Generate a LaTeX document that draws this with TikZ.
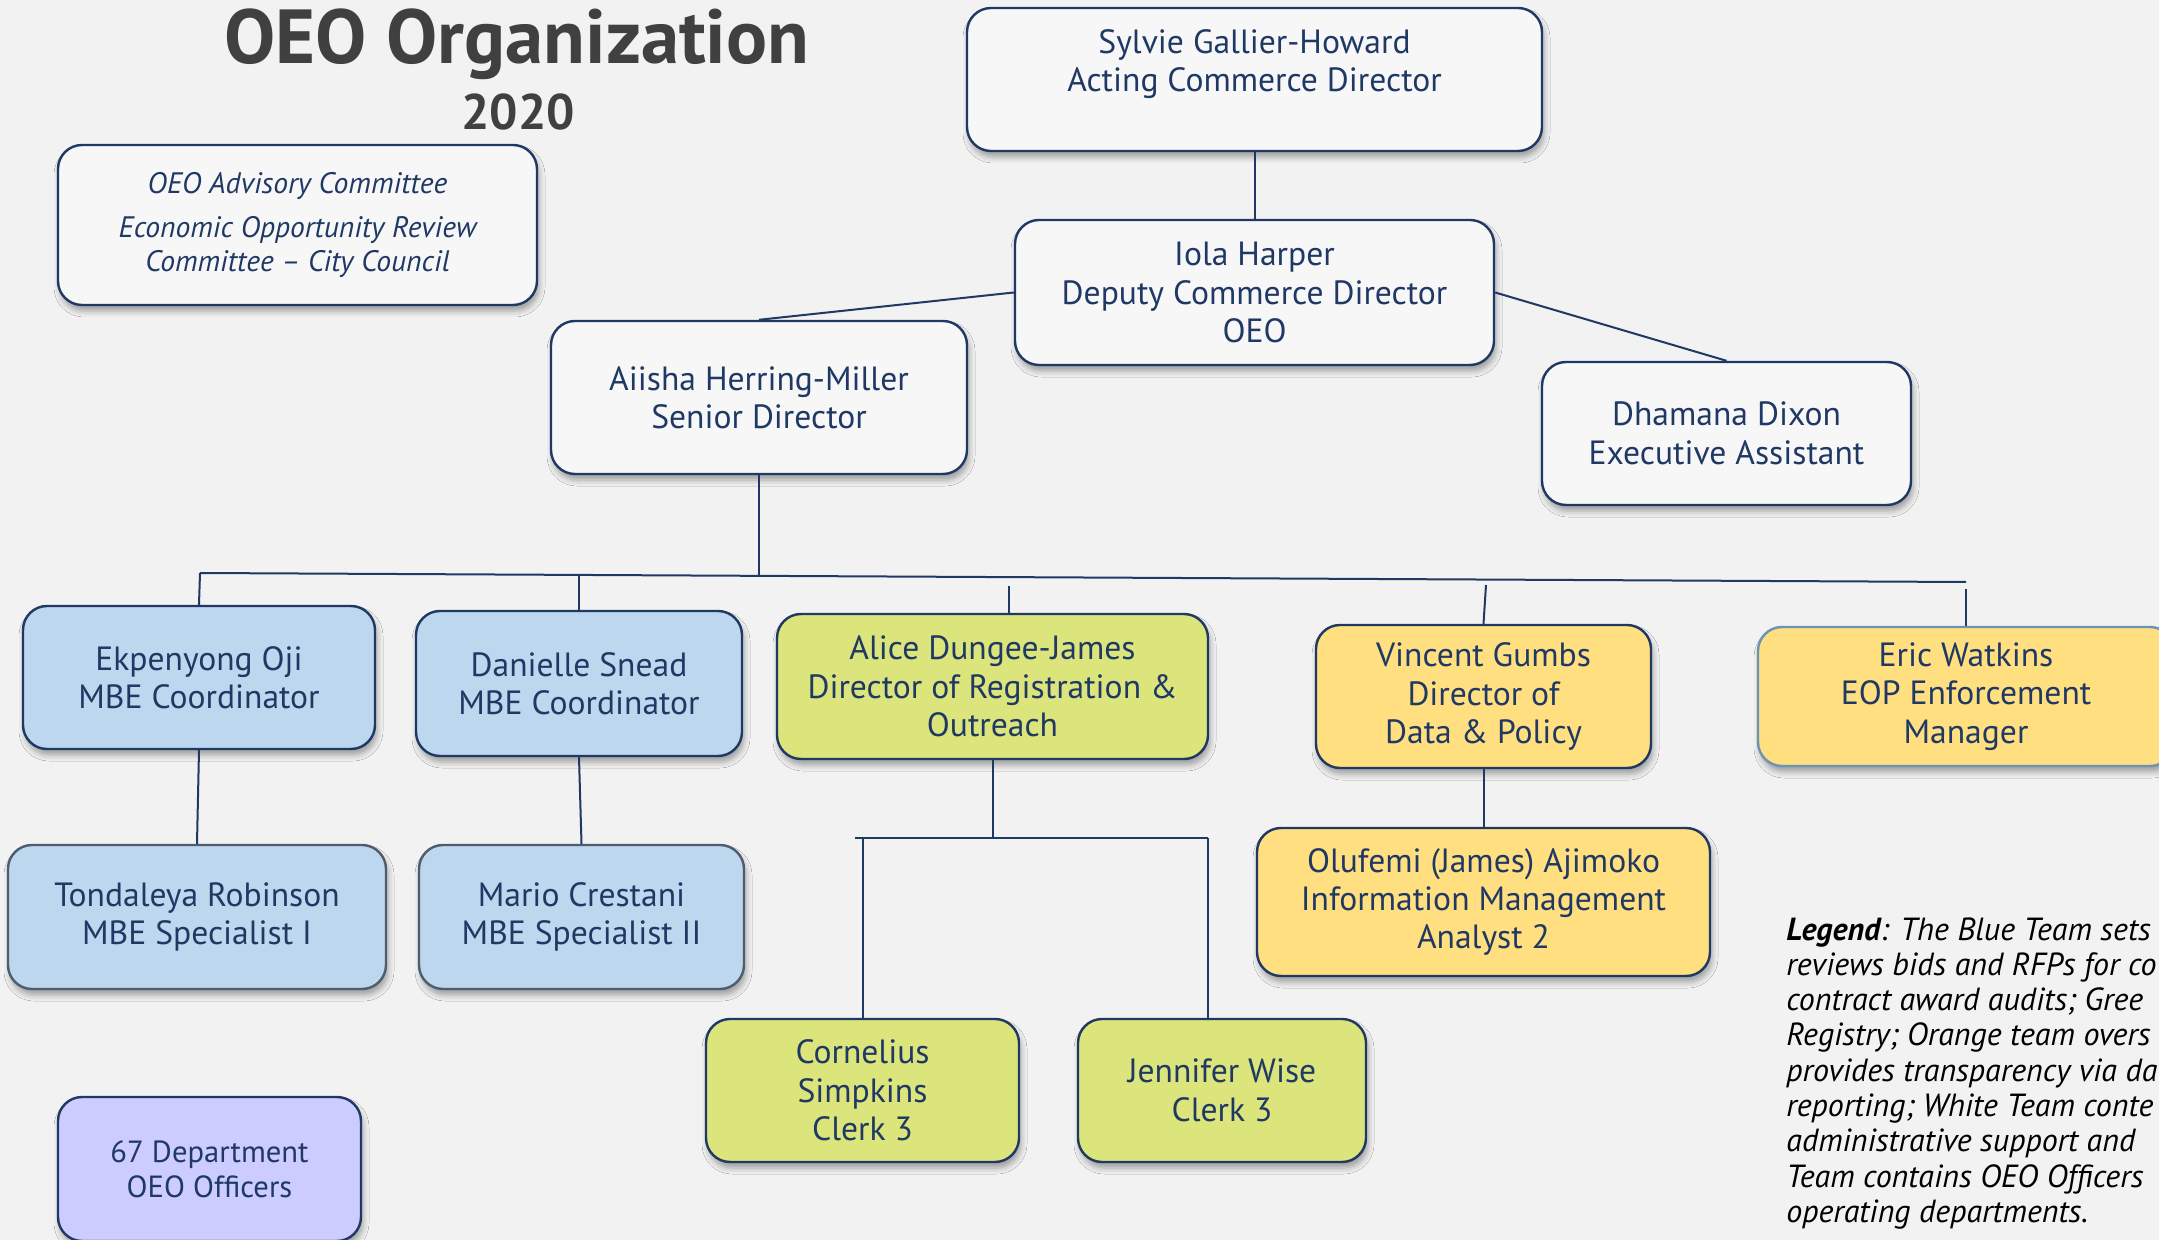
\documentclass[tikz,border=0pt]{standalone}
\usepackage{fontspec}
\setmainfont{PT Sans}
\usetikzlibrary{shadows.blur}
\definecolor{bg}{HTML}{F2F2F2}
\definecolor{navy}{HTML}{1F3864}
\definecolor{wbox}{HTML}{F7F7F8}
\definecolor{bbox}{HTML}{BDD7EE}
\definecolor{gbox}{HTML}{DCE47C}
\definecolor{ybox}{HTML}{FFDF80}
\definecolor{pbox}{HTML}{CCCCFF}
\definecolor{ttl}{HTML}{404040}
\definecolor{ericline}{HTML}{6A93B5}
\definecolor{grayline}{HTML}{4E5D6E}
\begin{document}
\begin{tikzpicture}[x=0.5pt,y=-0.5pt,
  card/.style={draw=navy, line width=1.2pt, rounded corners=12pt, text=navy,
    align=center, inner sep=0pt, font=\fontsize{16.8}{19.2}\selectfont,
    blur shadow={shadow xshift=1pt, shadow yshift=-3pt, shadow blur radius=3pt, shadow opacity=35}},
  white/.style={card, fill=wbox},
  blue/.style={card, fill=bbox},
  green/.style={card, fill=gbox},
  yellow/.style={card, fill=ybox},
  link/.style={draw=navy, line width=1pt}]
\path[use as bounding box, fill=bg] (0,0) rectangle (2159,1240);
\clip (0,0) rectangle (2159,1240);

% title
\node[text=ttl, font=\fontsize{38.3}{42}\selectfont\bfseries] (title) at (517,44) {OEO Organization};
\node[text=ttl, font=\fontsize{25}{28}\selectfont\bfseries] (year) at (518,112) {2020};

% advisory
\node[white, minimum width=239.5pt, minimum height=80pt, font=\fontsize{14.8}{16.8}\selectfont\itshape] (adv) at (297.5,225)
  {OEO Advisory Committee\\[5pt]Economic Opportunity Review\\Committee -- City Council};

% top
\node[white, minimum width=287.5pt, minimum height=71.5pt] (sylvie) at (1254.5,79.5) {Sylvie Gallier-Howard\\Acting Commerce Director\\~};
\node[white, minimum width=239.5pt, minimum height=72.5pt] (iola) at (1254.5,292.5) {Iola Harper\\Deputy Commerce Director\\OEO};
\node[white, minimum width=208pt, minimum height=76.5pt] (aiisha) at (759,397.5) {Aiisha Herring-Miller\\Senior Director};
\node[white, minimum width=184.5pt, minimum height=71.5pt] (dhamana) at (1726.5,433.5) {Dhamana Dixon\\Executive Assistant};

% level 3
\node[blue, minimum width=176pt, minimum height=71.5pt] (ekp) at (199,677.5) {Ekpenyong Oji\\MBE Coordinator};
\node[blue, minimum width=163pt, minimum height=72.5pt] (dan) at (579,683.5) {Danielle Snead\\MBE Coordinator};
\node[green, minimum width=215.5pt, minimum height=72.5pt] (alice) at (992.5,686.5) {Alice Dungee-James\\Director of Registration \&\\Outreach};
\node[yellow, minimum width=167.5pt, minimum height=71.5pt] (vincent) at (1483.5,696.5) {Vincent Gumbs\\Director of\\Data \& Policy};
\node[yellow, draw=ericline, minimum width=208pt, minimum height=69.5pt] (eric) at (1966,696.5) {Eric Watkins\\EOP Enforcement\\Manager};

% level 4
\node[blue, draw=grayline, minimum width=189pt, minimum height=72pt] (tond) at (197,917) {Tondaleya Robinson\\MBE Specialist I};
\node[blue, draw=grayline, minimum width=162.5pt, minimum height=72pt] (mario) at (581.5,917) {Mario Crestani\\MBE Specialist II};
\node[yellow, minimum width=226.5pt, minimum height=74pt] (olu) at (1483.5,902) {Olufemi (James) Ajimoko\\Information Management\\Analyst 2};

% level 5
\node[green, minimum width=156.5pt, minimum height=71.5pt] (corn) at (862.5,1090.5) {Cornelius\\Simpkins\\Clerk 3};
\node[green, minimum width=144pt, minimum height=71.5pt] (jen) at (1222,1090.5) {Jennifer Wise\\Clerk 3};
\node[card, fill=pbox, minimum width=151.5pt, minimum height=72pt, font=\fontsize{15.3}{17.5}\selectfont] (dept) at (209.5,1169) {67 Department\\OEO Officers};

% legend (cut off at the right edge, as in the reference)
\node[anchor=north west, align=left, inner sep=0pt, font=\fontsize{16}{17.65}\selectfont\itshape] (legend) at (1786,917)
  {\textbf{Legend}: The Blue Team sets\\
   reviews bids and RFPs for co\\
   contract award audits; Gree\\
   Registry; Orange team overs\\
   provides transparency via da\\
   reporting; White Team conte\\
   administrative support and\\
   Team contains OEO Officers\\
   operating departments.};

% connectors
\draw[link] (sylvie.south) -- (iola.north);
\draw[link] (iola.west) -- (aiisha.north);
\draw[link] (iola.east) -- (dhamana.north);
\coordinate (barL) at (200,573);
\coordinate (barR) at (1966,582);
\coordinate (barA) at (759,576);
\coordinate (barD) at (579,575);
\coordinate (dropAl) at (1009,586);
\coordinate (dropV) at (1486,585);
\coordinate (dropE) at (1966,589);
\draw[link] (barL) -- (barR);
\draw[link] (aiisha.south) -- (barA);
\draw[link] (barL) -- (ekp.north);
\draw[link] (barD) -- (dan.north);
\draw[link] (dropAl) -- (dropAl |- alice.north);
\draw[link] (dropV) -- (vincent.north);
\draw[link] (dropE) -- (eric.north);
\draw[link] (ekp.south) -- (tond.north);
\draw[link] (dan.south) -- (mario.north);
\draw[link] (vincent.south) -- (olu.north);
\coordinate (clerkBar) at (992.5,838);
\coordinate (clerkL) at (855,838);
\coordinate (clerkR) at (1208,838);
\draw[link] (alice.south) -- (clerkBar);
\draw[link] (clerkL) -- (clerkR);
\draw[link] (corn.north |- clerkBar) -- (corn.north);
\draw[link] (clerkR) -- (clerkR |- jen.north);
\end{tikzpicture}
\end{document}
